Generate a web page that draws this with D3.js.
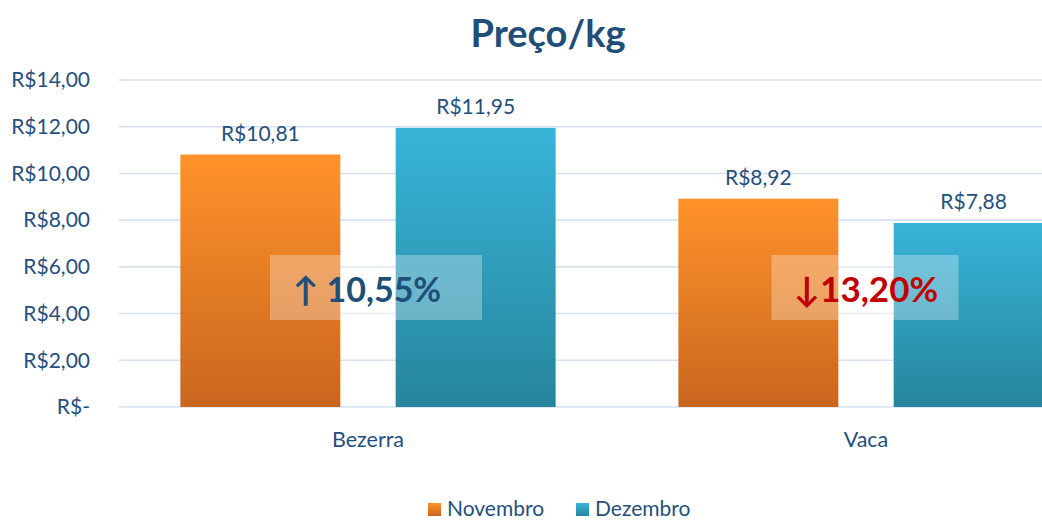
<!DOCTYPE html>
<html>
<head>
<meta charset="utf-8">
<script src="https://cdn.jsdelivr.net/npm/d3@7"></script>
<style>
  body { margin: 0; background: #fff; }
  svg { display: block; font-family: Lato, "Open Sans", sans-serif; }
</style>
</head>
<body>
<div id="chart"></div>
<script>
// chart data
var categories = ['Bezerra', 'Vaca'];
var seriesNames = ['Novembro', 'Dezembro'];
var novembro = [10.81, 8.92];
var dezembro = [11.95, 7.88];
var changes = ['\u2191 10,55%', '\u219313,20%'];
var yTicks = [0, 2, 4, 6, 8, 10, 12, 14];

var width = 1042, height = 520;
var textColor = '#264F7D';

var svg = d3.select('#chart').append('svg')
  .attr('width', width)
  .attr('height', height);

// gradients for the bars
var defs = svg.append('defs');
function grad(id, top, bottom) {
  var g = defs.append('linearGradient').attr('id', id)
    .attr('x1', 0).attr('y1', 0).attr('x2', 0).attr('y2', 1);
  g.append('stop').attr('offset', '0%').attr('stop-color', top);
  g.append('stop').attr('offset', '100%').attr('stop-color', bottom);
}
grad('gOrange', '#FF922A', '#C9661F');
grad('gBlue', '#38B4D9', '#26859C');
var fills = ['url(#gOrange)', 'url(#gBlue)'];

// plot runs past the right edge, like the original
var x0 = d3.scaleBand().domain(categories).range([119, 1115]).paddingInner(0).paddingOuter(0);
var x1 = d3.scaleBand().domain(seriesNames).range([0, x0.bandwidth()])
  .paddingInner(0.257).paddingOuter(0.285);
var y = d3.scaleLinear().domain([0, 14]).range([407, 80]);

// gridlines
svg.append('g').selectAll('line')
  .data(yTicks)
  .join('line')
  .attr('x1', 119).attr('x2', width)
  .attr('y1', function(d) { return y(d); })
  .attr('y2', function(d) { return y(d); })
  .attr('stroke', '#D7E2F1')
  .attr('stroke-width', 1.6);

// y labels
svg.append('g').selectAll('text')
  .data(yTicks)
  .join('text')
  .attr('x', 90)
  .attr('y', function(d) { return y(d); })
  .attr('dy', '0.35em')
  .attr('text-anchor', 'end')
  .attr('font-size', 21)
  .attr('fill', textColor)
  .text(function(d) { return d === 0 ? 'R$-' : 'R$' + d3.format('.2f')(d).replace('.', ','); });

// bars
var rows = categories.map(function(c, i) {
  return { cat: c, vals: [novembro[i], dezembro[i]] };
});

var groups = svg.append('g').selectAll('g')
  .data(rows)
  .join('g')
  .attr('transform', function(d) { return 'translate(' + x0(d.cat) + ',0)'; });

groups.selectAll('rect')
  .data(function(d) { return d.vals.map(function(v, j) { return { s: seriesNames[j], v: v, j: j }; }); })
  .join('rect')
  .attr('x', function(d) { return x1(d.s); })
  .attr('width', x1.bandwidth())
  .attr('y', function(d) { return y(d.v); })
  .attr('height', function(d) { return y(0) - y(d.v); })
  .attr('fill', function(d) { return fills[d.j]; });

groups.selectAll('text.val')
  .data(function(d) { return d.vals.map(function(v, j) { return { s: seriesNames[j], v: v }; }); })
  .join('text')
  .attr('class', 'val')
  .attr('x', function(d) { return x1(d.s) + x1.bandwidth() / 2; })
  .attr('y', function(d) { return y(d.v) - 14; })
  .attr('text-anchor', 'middle')
  .attr('font-size', 21)
  .attr('fill', textColor)
  .text(function(d) { return 'R$' + d3.format('.2f')(d.v).replace('.', ','); });

// change boxes
var boxW = [212, 187];
var boxShift = [8, -1];
groups.append('rect')
  .attr('x', function(d, i) { return x0.bandwidth() / 2 - boxW[i] / 2 + boxShift[i]; })
  .attr('y', 255)
  .attr('width', function(d, i) { return boxW[i]; })
  .attr('height', 65)
  .attr('fill', '#fff')
  .attr('fill-opacity', 0.3);

groups.append('text')
  .attr('x', function(d, i) { return x0.bandwidth() / 2 + (i ? 0 : -1); })
  .attr('y', 302)
  .attr('text-anchor', 'middle')
  .attr('font-size', function(d, i) { return i ? 35 : 34; })
  .attr('font-weight', 'bold')
  .attr('fill', function(d, i) { return i ? '#C00000' : '#1F4E79'; })
  .text(function(d, i) { return changes[i]; });

// category labels
svg.append('g').selectAll('text')
  .data(categories)
  .join('text')
  .attr('x', function(d) { return x0(d) + x0.bandwidth() / 2; })
  .attr('y', 447)
  .attr('text-anchor', 'middle')
  .attr('font-size', 21.5)
  .attr('fill', textColor)
  .text(function(d) { return d; });

// title
svg.append('text')
  .attr('x', 548)
  .attr('y', 47)
  .attr('text-anchor', 'middle')
  .attr('font-size', 38)
  .attr('font-weight', 'bold')
  .attr('fill', '#1F4E79')
  .text('Preço/kg');

// legend
var legendX = [428, 576];
var legend = svg.append('g').selectAll('g')
  .data(seriesNames)
  .join('g')
  .attr('transform', function(d, i) { return 'translate(' + legendX[i] + ',503)'; });

legend.append('rect')
  .attr('width', 13).attr('height', 13)
  .attr('fill', function(d, i) { return fills[i]; });

legend.append('text')
  .attr('x', 19)
  .attr('y', 13)
  .attr('font-size', 21)
  .attr('fill', textColor)
  .text(function(d) { return d; });
</script>
</body>
</html>
